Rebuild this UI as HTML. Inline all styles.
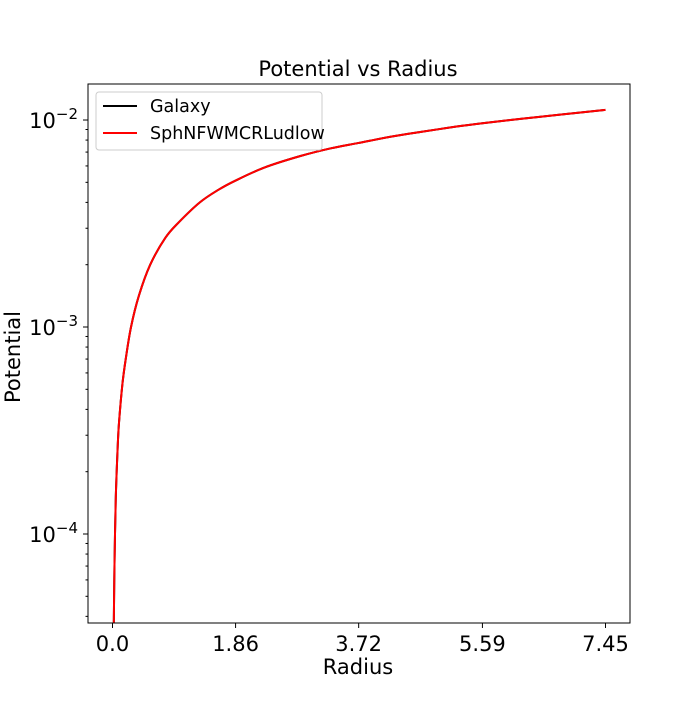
<!DOCTYPE html>
<html><head><meta charset="utf-8"><style>
body{margin:0;background:#fff}
svg text{font-family:"DejaVu Sans","Liberation Sans",sans-serif;fill:#000}
</style></head><body>
<svg width="700" height="700" id="chart">
<rect width="700" height="700" fill="#fff"/>
<text x="358" y="76" font-size="21" text-anchor="middle">Potential vs Radius</text>
<text x="358" y="674" font-size="21" text-anchor="middle">Radius</text>
<text transform="translate(13,357) rotate(-90)" font-size="21" text-anchor="middle" dominant-baseline="central">Potential</text>
<g id="axes"></g>
<g id="series"></g>
<rect x="88" y="84" width="542" height="539" fill="none" stroke="#000" stroke-width="1"/>
<g>
<rect x="96" y="92" width="226" height="58" rx="3" fill="#fff" fill-opacity="0.8" stroke="#ccc"/>
<line x1="103" y1="106" x2="137" y2="106" stroke="#000" stroke-width="2"/>
<text x="150" y="112" font-size="17.5">Galaxy</text>
<line x1="103" y1="133" x2="137" y2="133" stroke="#f00" stroke-width="2"/>
<text x="150" y="139" font-size="17.5">SphNFWMCRLudlow</text>
</g>
</svg>
<script>
const radius=[0.02,0.03,0.05,0.08,0.1,0.15,0.2,0.28,0.4,0.57,0.8,1.0,1.32,1.6,1.86,2.3,2.84,3.3,3.72,4.2,4.65,5.2,5.59,6.2,6.8,7.45];
const galaxy=[3.7e-5,7e-5,1.5e-4,2.7e-4,3.5e-4,5.3e-4,7.0e-4,1.0e-3,1.42e-3,2.0e-3,2.7e-3,3.2e-3,4.0e-3,4.6e-3,5.1e-3,5.9e-3,6.7e-3,7.3e-3,7.75e-3,8.3e-3,8.75e-3,9.3e-3,9.65e-3,1.015e-2,1.065e-2,1.12e-2];
const ludlow=galaxy.slice();
const xTicks=[0.0,1.86,3.72,5.59,7.45];
const xTickLabels=["0.0","1.86","3.72","5.59","7.45"];
const yDecades=[-4,-3,-2];
const L=88,R=630,T=84,B=623;
const xMin=-0.37,xMax=7.82,yMin=-4.43,yMax=-1.826;
const xs=v=>L+(v-xMin)/(xMax-xMin)*(R-L);
const ys=v=>B-(Math.log10(v)-yMin)/(yMax-yMin)*(B-T);
const NS="http://www.w3.org/2000/svg";
const axes=document.getElementById('axes'),ser=document.getElementById('series');
function mk(t,a,p){const e=document.createElementNS(NS,t);for(const k in a)e.setAttribute(k,a[k]);p.appendChild(e);return e;}
xTicks.forEach((v,i)=>{
 const x=xs(v);
 const l=mk('line',{x1:x,x2:x,y1:B,y2:B+5,stroke:'#000'},axes);
 
 
 const t=mk('text',{x:x,y:B+28,'font-size':21,'text-anchor':'middle'},axes);t.textContent=xTickLabels[i];
 
 
});
for(let d=-5;d<=-2;d++){
 for(let m=1;m<10;m++){
  const v=m*Math.pow(10,d);const lv=Math.log10(v);
  if(lv<yMin||lv>yMax)continue;
  const y=ys(v);
  const l=mk('line',{x1:L,x2:L-(m==1?5:2.5),y1:y,y2:y,stroke:'#000'},axes);
  
  
 }
}
yDecades.forEach(d=>{
 const y=ys(Math.pow(10,d));
 const t=mk('text',{x:L-10,y:y+8,'font-size':21,'text-anchor':'end'},axes);
 t.innerHTML='10<tspan dy="-9" font-size="15">\u2212'+(-d)+'</tspan>';
 
 
});
function path(vals,col,name){
 const P=radius.map((r,i)=>[xs(r),Math.min(B,ys(vals[i]))]);
 let d='M'+P[0][0].toFixed(2)+','+P[0][1].toFixed(2);
 for(let i=0;i<P.length-1;i++){
  const p0=P[Math.max(0,i-1)],p1=P[i],p2=P[i+1],p3=P[Math.min(P.length-1,i+2)];
  const c1=[p1[0]+(p2[0]-p0[0])/6,p1[1]+(p2[1]-p0[1])/6];
  const c2=[p2[0]-(p3[0]-p1[0])/6,p2[1]-(p3[1]-p1[1])/6];
  d+='C'+c1.map(n=>n.toFixed(2)).join(',')+' '+c2.map(n=>n.toFixed(2)).join(',')+' '+p2.map(n=>n.toFixed(2)).join(',');
 }
 const p=mk('path',{d:d,fill:'none',stroke:col,'stroke-width':2,'stroke-linejoin':'round'},ser);
 
 
}
path(galaxy,'#000','galaxy-line');
path(ludlow,'#f00','sphnfw-line');
</script>
</body></html>
